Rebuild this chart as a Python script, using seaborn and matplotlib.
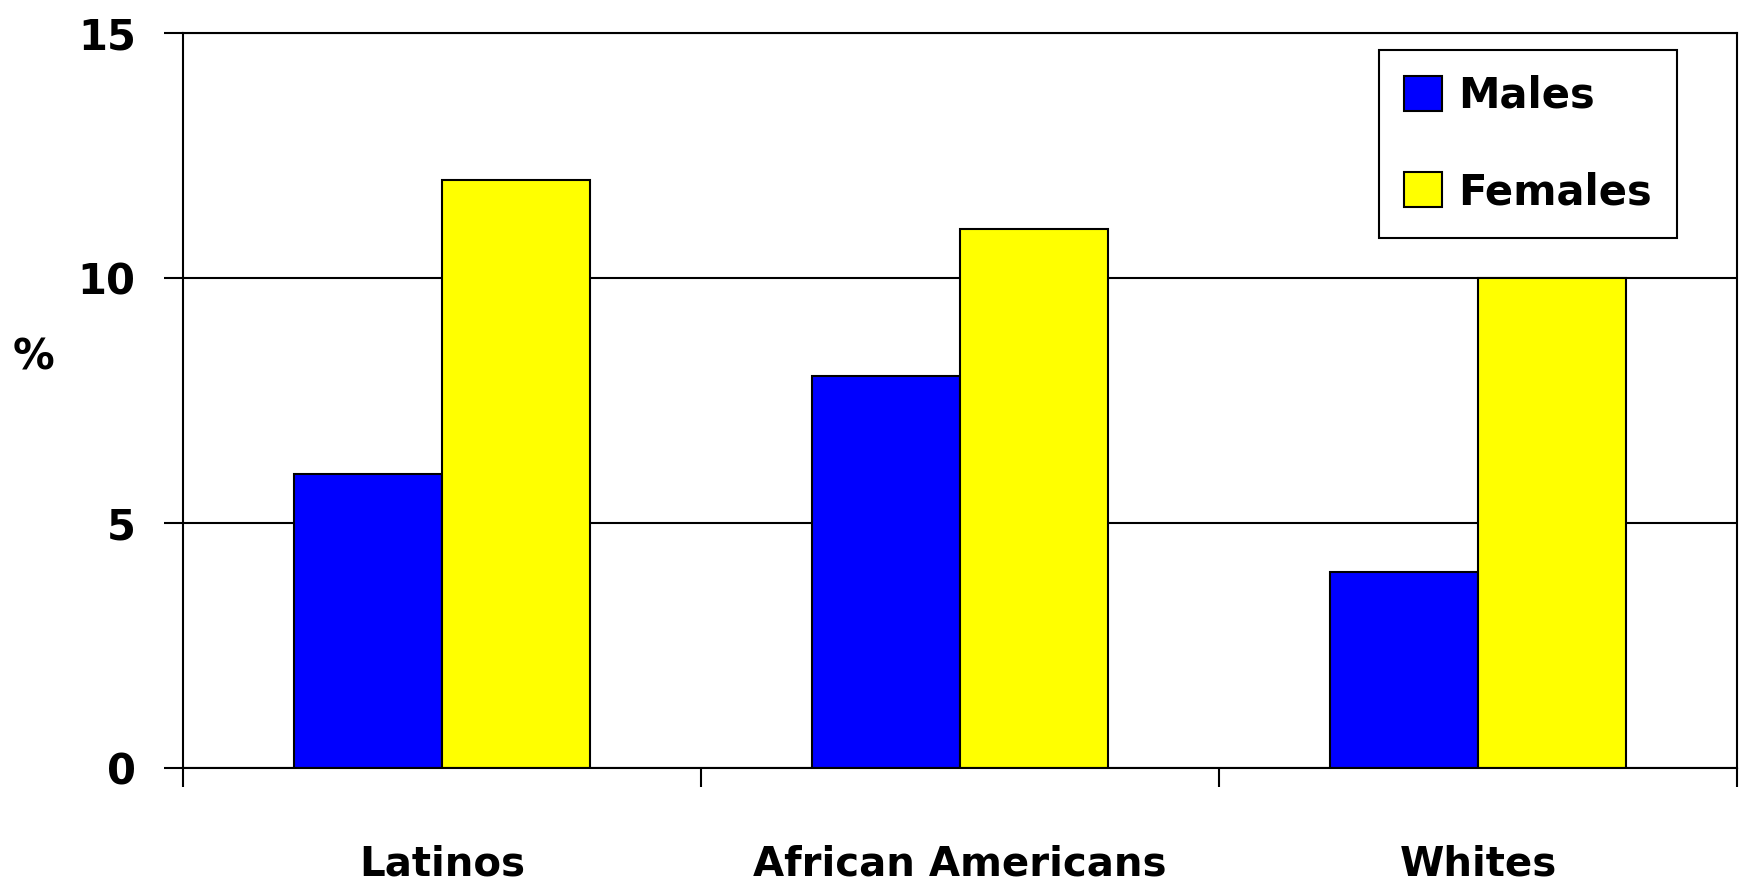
import seaborn as sns
import pandas as pd
import matplotlib.pyplot as plt

groups = ["Latinos", "African Americans", "Whites"]
males = [6, 8, 4]
females = [12, 11, 10]
series = ["Males", "Females"]
y_ticks = [0, 5, 10, 15]


def main():
    sns.set_style("white")
    plt.rcParams['font.family'] = ['DejaVu Sans']
    plt.rcParams['font.weight'] = 'bold'
    plt.rcParams['text.color'] = 'black'
    plt.rcParams['xtick.color'] = 'black'
    plt.rcParams['ytick.color'] = 'black'
    plt.rcParams['axes.labelcolor'] = 'black'

    data = pd.DataFrame({
        'group': groups * 2,
        'value': males + females,
        'sex': [series[0]] * len(groups) + [series[1]] * len(groups),
    })

    fig = plt.figure(figsize=(17.43, 8.84), dpi=100)
    ax = fig.add_axes([0.105, 0.1312, 0.8916, 0.8315])

    sns.barplot(
        data=data,
        x='group',
        y='value',
        hue='sex',
        order=groups,
        hue_order=series,
        palette=['#0000FF', '#FFFF00'],
        saturation=1,
        edgecolor='black',
        linewidth=1.5,
        width=0.57,
        ax=ax,
    )

    ax.set_xlim(-0.5, len(groups) - 0.5)
    ax.set_ylim(0, 15)
    ax.set_yticks(y_ticks)
    ax.yaxis.grid(True, color='black', linewidth=1.5)
    ax.set_axisbelow(True)
    for s in ax.spines.values():
        s.set_color('black')
        s.set_linewidth(1.5)

    # category labels centred, ticks on the boundaries
    ax.set_xticks(range(len(groups)))
    ax.set_xticklabels(groups, fontsize=29, fontweight='bold')
    ax.tick_params(axis='x', which='major', length=0, pad=55)
    ax.set_xticks([i - 0.5 for i in range(len(groups) + 1)], minor=True)
    ax.tick_params(axis='x', which='minor', length=14, width=1.5,
                   color='black', direction='out', bottom=True)
    ax.tick_params(axis='y', length=14, width=1.5, color='black',
                   direction='out', left=True, pad=20, labelsize=30)
    for t in ax.get_yticklabels():
        t.set_fontweight('bold')

    ax.set_xlabel('')
    ax.set_ylabel('%', rotation=0, fontsize=30, fontweight='bold', va='center')
    ax.yaxis.set_label_coords(-0.096, 0.558)

    handles, labels = ax.get_legend_handles_labels()
    leg = ax.legend(
        handles, labels,
        loc='upper right',
        bbox_to_anchor=(1677 / 1743, 1 - 50 / 884),
        bbox_transform=fig.transFigure,
        borderaxespad=0,
        frameon=True,
        fancybox=False,
        edgecolor='black',
        framealpha=1,
        handlelength=0.9,
        handleheight=0.9,
        handletextpad=0.4,
        labelspacing=1.3,
        borderpad=0.6,
        prop={'weight': 'bold', 'size': 30},
    )
    leg.get_frame().set_linewidth(1.5)

    fig.savefig('out.png', dpi=100)


if __name__ == "__main__":
    main()
